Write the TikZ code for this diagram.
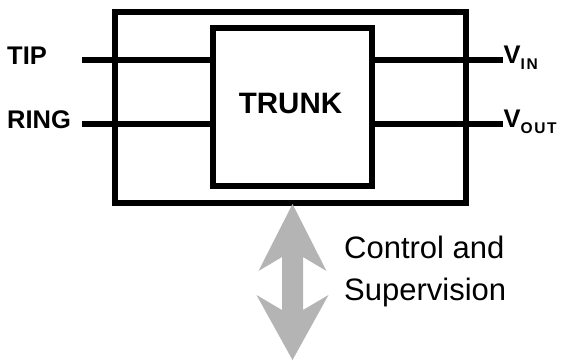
\documentclass[tikz,border=0pt]{standalone}
\usepackage{fontspec}
\setmainfont{Liberation Sans}
\definecolor{arrowgray}{RGB}{180,180,180}
\newcommand{\pinsub}[1]{\raisebox{-6pt}{\fontsize{15.5}{15.5}\selectfont\addfontfeatures{LetterSpace=10}#1}}
\begin{document}
\begin{tikzpicture}[x=1pt,y=-1pt,
  box/.style={draw=black,line width=6pt,inner sep=0pt,outer sep=0pt,fill=none},
  wire/.style={line width=6pt,draw=black},
  pinlabel/.style={inner sep=0pt,font=\bfseries\fontsize{25.5}{25.5}\selectfont},
  bigtext/.style={inner sep=0pt,font=\bfseries\fontsize{29.5}{30}\selectfont},
  notetext/.style={inner sep=0pt,anchor=base west,font=\fontsize{31}{31}\selectfont}]
\useasboundingbox (0,0) rectangle (562,360);
% boxes
\node[box,minimum width=351pt,minimum height=191pt] (outer) at (290.5,107.5) {};
\node[box,minimum width=159pt,minimum height=158.5pt] (trunk) at (292.5,106.75) {};
\node[bigtext,anchor=base] (trunklabel) at (290.5,113) {TRUNK};
% labels
\node[pinlabel,anchor=base west] (tip) at (7,64) {TIP};
\node[pinlabel,anchor=base west] (ring) at (7,128) {RING};
\node[pinlabel,anchor=base west] (vin) at (503.5,63) {V\pinsub{IN}};
\node[pinlabel,anchor=base west] (vout) at (503.5,127) {V\pinsub{OUT}};
% wire end coordinates
\coordinate (tipend) at (82,60);
\coordinate (ringend) at (82,124);
\coordinate (vinend) at (503,60);
\coordinate (voutend) at (503,124);
\draw[wire] (tipend) -- (trunk.west |- tipend);
\draw[wire] (ringend) -- (trunk.west |- ringend);
\draw[wire] (trunk.east |- vinend) -- (vinend);
\draw[wire] (trunk.east |- voutend) -- (voutend);
% double arrow
\coordinate (atop) at (292.5,204);
\coordinate (abot) at (292.5,360);
\fill[arrowgray] (atop) -- ++(-34,67) -- ++(23.5,-14) -- (282,310) -- (256.5,295)
  -- (abot) -- (328.5,295) -- (303,310) -- (303,257) -- (326.5,271) -- cycle;
% note
\node[notetext] (note1) at (344,258) {Control and};
\node[notetext] (note2) at (344,300) {Supervision};
\end{tikzpicture}
\end{document}
